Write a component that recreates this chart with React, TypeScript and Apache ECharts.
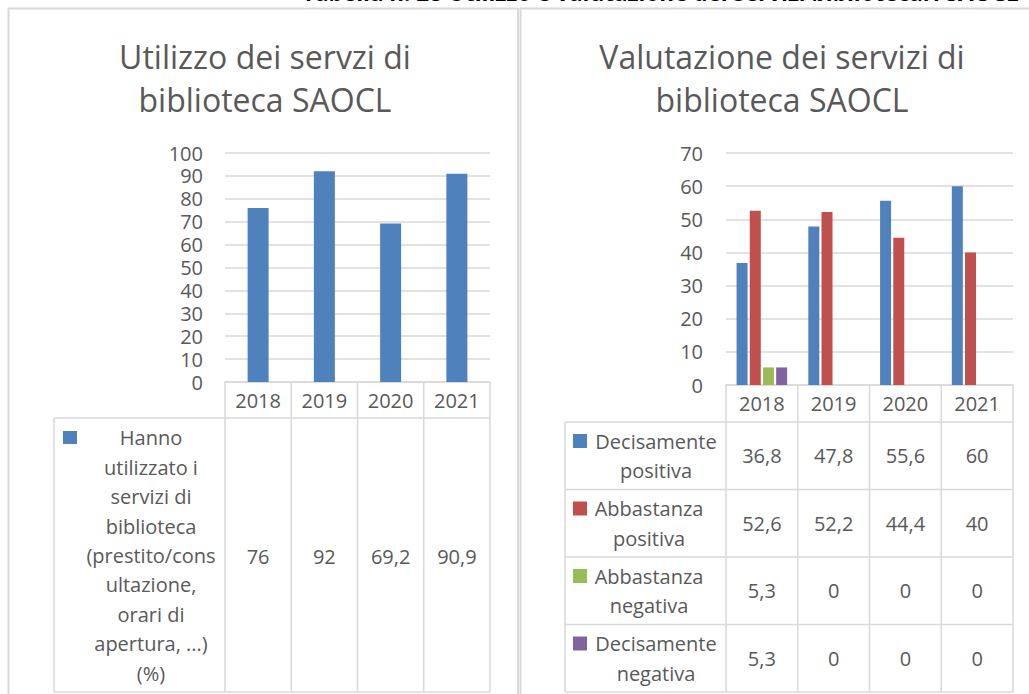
import React, { useEffect, useRef } from "react";
import * as echarts from "echarts";

const years = ["2018", "2019", "2020", "2021"];
const usageName =
  "Hanno utilizzato i servizi di biblioteca (prestito/consultazione, orari di apertura, ...) (%)";
const usageLegendLines = [
  "Hanno",
  "utilizzato i",
  "servizi di",
  "biblioteca",
  "(prestito/cons",
  "ultazione,",
  "orari di",
  "apertura, ...)",
  "(%)",
];
const usage = [76, 92, 69.2, 90.9];

const ratingNames = [
  "Decisamente positiva",
  "Abbastanza positiva",
  "Abbastanza negativa",
  "Decisamente negativa",
];
const ratingLegendLines = [
  ["Decisamente", "positiva"],
  ["Abbastanza", "positiva"],
  ["Abbastanza", "negativa"],
  ["Decisamente", "negativa"],
];
const decisamentePositiva = [36.8, 47.8, 55.6, 60];
const abbastanzaPositiva = [52.6, 52.2, 44.4, 40];
const abbastanzaNegativa = [5.3, 0, 0, 0];
const decisamenteNegativa = [5.3, 0, 0, 0];
const ratingSeries = [
  decisamentePositiva,
  abbastanzaPositiva,
  abbastanzaNegativa,
  decisamenteNegativa,
];

const leftTitle = "Utilizzo dei servzi di\nbiblioteca SAOCL";
const rightTitle = "Valutazione dei servizi di\nbiblioteca SAOCL";
const headerText =
  "Tabella n. 28 Utilizzo e valutazione dei servizi bibliotecari SAOCL";
const leftAxis = { min: 0, max: 100, interval: 10 };
const rightAxis = { min: 0, max: 70, interval: 10 };

const colors = ["#4f81bd", "#c0504d", "#9bbb59", "#8064a2"];
const TEXT = "#595959";
const LINE = "#d9d9d9";
const FONT = "'Open Sans', sans-serif";

const fmt = (v: number) => String(v).replace(".", ",");

export default function App() {
  const ref = useRef<HTMLDivElement>(null);

  useEffect(() => {
    document.body.style.margin = "0";
    const chart = echarts.init(ref.current!, undefined, { renderer: "svg" });

    // layout
    const L = { x0: 225, x1: 490, top: 153, base: 382, headBottom: 418, tblLeft: 54, tblBottom: 692 };
    const R = { x0: 726, x1: 1013, top: 153, base: 385, headBottom: 422, tblLeft: 565, tblBottom: 692 };
    const lcw = (L.x1 - L.x0) / years.length;
    const rcw = (R.x1 - R.x0) / years.length;
    const rowH = (R.tblBottom - R.headBottom) / ratingSeries.length;

    const g: any[] = [];
    const line = (x1: number, y1: number, x2: number, y2: number, w = 1.5) =>
      g.push({
        type: "line",
        shape: { x1, y1, x2, y2 },
        style: { stroke: LINE, lineWidth: w },
        silent: true,
      });
    const text = (x: number, y: number, t: string, extra: any = {}) =>
      g.push({
        type: "text",
        x,
        y,
        style: {
          text: t,
          fill: TEXT,
          fontSize: 20,
          fontFamily: FONT,
          align: "center",
          verticalAlign: "middle",
          ...extra,
        },
        silent: true,
      });

    // panel frames
    line(8.5, 8, 8.5, 694, 2);
    line(8, 8.5, 518, 8.5, 2);
    line(518, 8, 518, 694, 2);
    line(520.5, 8, 520.5, 694, 2);
    line(520, 8.5, 1029, 8.5, 2);

    // header text (cut off at the top of the picture)
    text(302, -8, headerText, {
      align: "left",
      fontWeight: "bold",
      fontSize: 22.5,
      fill: "#000000",
    });

    // titles
    text(265, 78, leftTitle, { fontSize: 32, lineHeight: 43 });
    text(782, 78, rightTitle, { fontSize: 32, lineHeight: 43 });

    // left table
    for (let i = 0; i <= years.length; i++) {
      const x = L.x0 + i * lcw;
      line(x, L.base, x, L.tblBottom);
    }
    line(L.tblLeft, L.headBottom, L.x1, L.headBottom);
    line(L.tblLeft, L.tblBottom, L.x1, L.tblBottom);
    line(L.tblLeft, L.headBottom, L.tblLeft, L.tblBottom);
    g.push({
      type: "rect",
      shape: { x: 63, y: 431, width: 14, height: 13 },
      style: { fill: colors[0] },
      silent: true,
    });
    text(151, 555.5, usageLegendLines.join("\n"), { lineHeight: 29.4 });
    usage.forEach((v, i) => text(L.x0 + (i + 0.5) * lcw, 556, fmt(v)));

    // right table
    for (let i = 0; i <= years.length; i++) {
      const x = R.x0 + i * rcw;
      line(x, R.base, x, R.tblBottom);
    }
    line(R.tblLeft, R.headBottom, R.tblLeft, R.tblBottom);
    const legendCenters = [656, 649, 649, 656];
    ratingSeries.forEach((arr, r) => {
      const yTop = R.headBottom + r * rowH;
      line(R.tblLeft, yTop, R.x1, yTop);
      g.push({
        type: "rect",
        shape: { x: 573, y: yTop + 12, width: 14, height: 14 },
        style: { fill: colors[r] },
        silent: true,
      });
      text(legendCenters[r], yTop + rowH / 2, ratingLegendLines[r].join("\n"), {
        lineHeight: 29.5,
      });
      arr.forEach((v, i) => text(R.x0 + (i + 0.5) * rcw, yTop + rowH / 2, fmt(v)));
    });
    line(R.tblLeft, R.tblBottom, R.x1, R.tblBottom);

    const xAxisBase = (gridIndex: number) => ({
      type: "category",
      gridIndex,
      data: years,
      axisTick: { show: false },
      axisLine: { show: true, lineStyle: { color: LINE, width: 1.5 } },
      axisLabel: { color: TEXT, fontSize: 20, fontFamily: FONT, margin: 8 },
    });
    const yAxisBase = (gridIndex: number, cfg: any, margin: number) => ({
      type: "value",
      gridIndex,
      min: cfg.min,
      max: cfg.max,
      interval: cfg.interval,
      axisLine: { show: false },
      axisTick: { show: false },
      splitLine: { lineStyle: { color: LINE, width: 1.5 } },
      axisLabel: {
        color: TEXT,
        fontSize: 20,
        lineHeight: 20,
        fontFamily: FONT,
        margin,
      },
    });

    chart.setOption({
      animation: false,
      grid: [
        { left: L.x0, right: 1029 - L.x1, top: L.top, bottom: 694 - L.base, containLabel: false },
        { left: R.x0, right: 1029 - R.x1, top: R.top, bottom: 694 - R.base, containLabel: false },
      ],
      xAxis: [xAxisBase(0), xAxisBase(1)],
      yAxis: [yAxisBase(0, leftAxis, 22), yAxisBase(1, rightAxis, 23)],
      series: [
        {
          type: "bar",
          name: usageName,
          xAxisIndex: 0,
          yAxisIndex: 0,
          data: usage,
          barWidth: 21,
          itemStyle: { color: colors[0] },
        },
        ...ratingSeries.map((arr, i) => ({
          type: "bar",
          name: ratingNames[i],
          xAxisIndex: 1,
          yAxisIndex: 1,
          data: arr,
          barWidth: 11,
          barGap: "20%",
          itemStyle: { color: colors[i] },
        })),
      ],
      graphic: g,
    });

    return () => chart.dispose();
  }, []);

  return <div ref={ref} style={{ width: 1029, height: 694 }} />;
}
